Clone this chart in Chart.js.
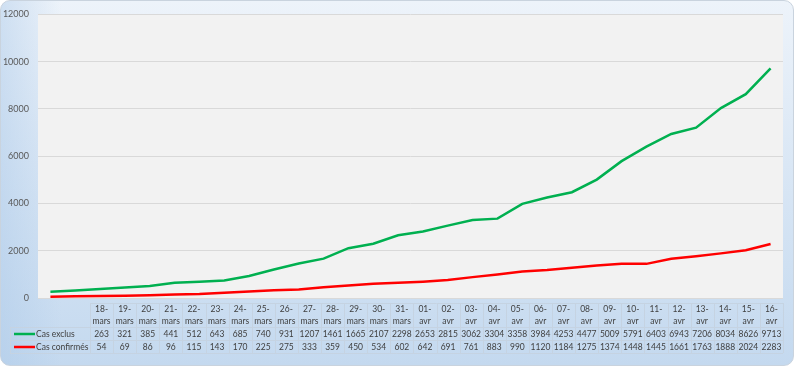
<!DOCTYPE html>
<html>
<head>
<meta charset="utf-8">
<script src="https://cdn.jsdelivr.net/npm/chart.js@4"></script>
<style>
  html, body { margin: 0; padding: 0; background: #ffffff; }
  #wrap {
    position: relative;
    width: 794px;
    height: 366px;
    box-sizing: border-box;
    border: 1px solid #c9d3de;
    border-radius: 10px;
    background:
      linear-gradient(to right, rgba(170, 200, 232, 0.45), rgba(170, 200, 232, 0) 60px),
      linear-gradient(to bottom, #edf3fa 0%, #dae7f5 45%, #c4d9ef 100%);
    overflow: hidden;
  }
  #chart { position: absolute; left: -1px; top: -1px; }
</style>
</head>
<body>
<div id="wrap">
  <canvas id="chart" width="794" height="366"></canvas>
</div>
<script>
// Dates (day-month)
const categories = [
  "18-mars", "19-mars", "20-mars", "21-mars", "22-mars", "23-mars", "24-mars",
  "25-mars", "26-mars", "27-mars", "28-mars", "29-mars", "30-mars", "31-mars",
  "01-avr", "02-avr", "03-avr", "04-avr", "05-avr", "06-avr", "07-avr", "08-avr",
  "09-avr", "10-avr", "11-avr", "12-avr", "13-avr", "14-avr", "15-avr", "16-avr"
];

const casExclus = [
  263, 321, 385, 441, 512, 643, 685, 740, 931, 1207, 1461, 1665, 2107, 2298,
  2653, 2815, 3062, 3304, 3358, 3984, 4253, 4477, 5009, 5791, 6403, 6943, 7206,
  8034, 8626, 9713
];

const casConfirmes = [
  54, 69, 86, 96, 115, 143, 170, 225, 275, 333, 359, 450, 534, 602,
  642, 691, 761, 883, 990, 1120, 1184, 1275, 1374, 1448, 1445, 1661, 1763,
  1888, 2024, 2283
];

const yTicks = [0, 2000, 4000, 6000, 8000, 10000, 12000];

const colors = {
  green: "#00b050",
  red: "#ff0000",
  plotBg: "#f2f2f2",
  grid: "#d9d9d9",
  text: "#404040",
  tableLine: "#c5d3e2"
};

const FONT = "Lato, 'Open Sans', sans-serif";

// Grey plot area behind the lines
const plotBackground = {
  id: "plotBackground",
  beforeDraw(chart) {
    const { ctx, chartArea } = chart;
    ctx.save();
    ctx.fillStyle = colors.plotBg;
    ctx.fillRect(chartArea.left, chartArea.top, chartArea.right - chartArea.left, chartArea.bottom - chartArea.top);
    ctx.restore();
  }
};

// Excel-like data table under the plot, built from the datasets
const dataTable = {
  id: "dataTable",
  afterDraw(chart) {
    const { ctx, chartArea } = chart;
    const labels = chart.data.labels;
    const sets = chart.data.datasets;
    const legendLeft = 10;
    const tableLeft = 90;
    const tableRight = chartArea.right;
    const colW = (tableRight - tableLeft) / labels.length;
    const headTop = 303, headBottom = 327;
    const rowH = 13;

    ctx.save();
    ctx.strokeStyle = colors.tableLine;
    ctx.lineWidth = 1;

    // horizontal lines
    ctx.beginPath();
    ctx.moveTo(tableLeft, headTop + 0.5);
    ctx.lineTo(tableRight, headTop + 0.5);
    for (let r = 0; r <= sets.length; r++) {
      const y = Math.round(headBottom + r * rowH) + 0.5;
      ctx.moveTo(legendLeft, y);
      ctx.lineTo(tableRight, y);
    }
    // vertical lines
    const bottom = headBottom + sets.length * rowH;
    ctx.moveTo(legendLeft + 0.5, headBottom);
    ctx.lineTo(legendLeft + 0.5, bottom);
    for (let i = 0; i <= labels.length; i++) {
      const x = Math.round(tableLeft + i * colW) + 0.5;
      ctx.moveTo(x, headTop);
      ctx.lineTo(x, bottom);
    }
    ctx.stroke();

    ctx.fillStyle = colors.text;
    ctx.font = "8.5px " + FONT;
    ctx.textAlign = "center";
    ctx.textBaseline = "middle";

    // header: "18-" / "mars"
    for (let i = 0; i < labels.length; i++) {
      const cx = tableLeft + (i + 0.5) * colW;
      const parts = labels[i].split("-");
      ctx.fillText(parts[0] + "-", cx, headTop + 6);
      ctx.fillText(parts[1], cx, headTop + 18);
    }

    // rows with legend keys
    for (let r = 0; r < sets.length; r++) {
      const cy = headBottom + r * rowH + rowH / 2 + 0.5;
      ctx.strokeStyle = sets[r].borderColor;
      ctx.lineWidth = 2.5;
      ctx.beginPath();
      ctx.moveTo(14, cy);
      ctx.lineTo(35, cy);
      ctx.stroke();

      ctx.fillStyle = colors.text;
      ctx.textAlign = "left";
      ctx.fillText(sets[r].label, 36, cy);
      ctx.textAlign = "center";
      for (let i = 0; i < labels.length; i++) {
        const cx = tableLeft + (i + 0.5) * colW;
        ctx.fillText(String(sets[r].data[i]), cx, cy);
      }
    }
    ctx.restore();
  }
};

new Chart(document.getElementById("chart"), {
  type: "line",
  data: {
    labels: categories,
    datasets: [
      {
        label: "Cas exclus",
        data: casExclus,
        borderColor: colors.green,
        borderWidth: 2.5,
        pointRadius: 0,
        tension: 0
      },
      {
        label: "Cas confirmés",
        data: casConfirmes,
        borderColor: colors.red,
        borderWidth: 2.5,
        pointRadius: 0,
        tension: 0
      }
    ]
  },
  options: {
    responsive: false,
    animation: false,
    layout: { padding: { left: 0, top: 12, right: 11, bottom: 68 } },
    plugins: {
      legend: { display: false },
      tooltip: { enabled: false }
    },
    scales: {
      x: {
        display: false,
        offset: true
      },
      y: {
        min: 0,
        max: 12000,
        afterBuildTicks(scale) {
          scale.ticks = yTicks.map(v => ({ value: v }));
        },
        afterFit(scale) { scale.width = 38; },
        border: { display: false },
        grid: { color: colors.grid, drawTicks: false, lineWidth: 1 },
        ticks: {
          color: "#595959",
          padding: 9,
          font: { family: FONT, size: 9 },
          callback: function(value) { return String(value); }
        }
      }
    }
  },
  plugins: [plotBackground, dataTable]
});
</script>
</body>
</html>
